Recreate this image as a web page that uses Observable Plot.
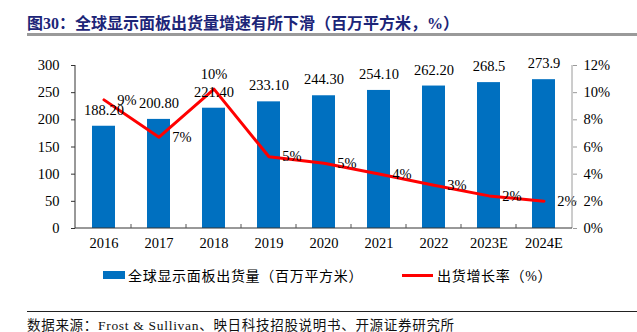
<!DOCTYPE html>
<html><head><meta charset="utf-8">
<script src="https://cdn.jsdelivr.net/npm/d3@7"></script>
<script src="https://cdn.jsdelivr.net/npm/@observablehq/plot@0.6"></script>
<style>
body{margin:0;background:#fff;}
#wrap{position:relative;width:637px;height:332px;overflow:hidden;background:#fff;font-family:'Liberation Serif','Noto Sans CJK SC',serif;}
#title{position:absolute;left:27px;top:10px;font-size:16px;font-weight:bold;color:#1c2578;white-space:nowrap;font-family:'Liberation Serif','Noto Sans CJK SC',serif;}
#rule1{position:absolute;left:27px;right:0;top:33px;height:3px;background:#9a9a9a;}
#chart{position:absolute;left:0;top:40px;}
#legend{position:absolute;top:265px;left:0;width:637px;height:20px;font-size:14px;letter-spacing:0.7px;color:#000;}
.lg{position:absolute;top:0;display:flex;align-items:center;height:20px;white-space:nowrap;}
.sw{display:inline-block;width:22px;height:8px;background:#0070C0;margin-right:3px;}
.ln{display:inline-block;width:31px;height:3px;background:#ff0000;margin-right:4px;}
#rule2{position:absolute;left:27px;right:0;top:311px;height:1px;background:#222;}
#source{position:absolute;left:27px;top:314px;font-size:13.5px;letter-spacing:0.7px;color:#111;white-space:nowrap;}
</style></head><body>
<div id="wrap">
  <div id="title">图30：全球显示面板出货量增速有所下滑（百万平方米，%）</div>
  <div id="rule1"></div>
  <div id="chart"></div>
  <div id="legend"></div>
  <div id="rule2"></div>
  <div id="source">数据来源：Frost &amp; Sullivan、映日科技招股说明书、开源证券研究所</div>
</div>
<script>
const years = ["2016","2017","2018","2019","2020","2021","2022","2023E","2024E"];
const shipments = [188.2, 200.8, 221.4, 233.1, 244.3, 254.1, 262.2, 268.5, 273.9];
const shipmentLabels = ["188.20","200.80","221.40","233.10","244.30","254.10","262.20","268.5","273.9"];
const growth = [9.47, 6.72, 10.26, 5.28, 4.80, 4.01, 3.19, 2.40, 2.01];
const growthLabels = ["9%","7%","10%","5%","5%","4%","3%","2%","2%"];
const leftTicks = [0, 50, 100, 150, 200, 250, 300];
const rightTicks = [0, 2, 4, 6, 8, 10, 12];
const seriesNames = ["全球显示面板出货量（百万平方米）", "出货增长率（%）"];

const factor = d3.max(leftTicks) / d3.max(rightTicks);
const data = years.map((y, i) => ({year: y, value: shipments[i], vlabel: shipmentLabels[i], rate: growth[i], rlabel: growthLabels[i]}));
const peakYear = years[d3.maxIndex(growth)];

const axesMark = (index, scales, values, dimensions) => {
  const x = scales.x, y = scales.y;
  const [x0, x1] = x.range();
  const yb = y(0), yt = y(d3.max(leftTicks));
  const g = d3.create("svg:g");
  g.append("line").attr("x1", x0).attr("x2", x0).attr("y1", yt).attr("y2", yb).attr("stroke", "#333");
  g.append("line").attr("x1", x1).attr("x2", x1).attr("y1", yt).attr("y2", yb).attr("stroke", "#9a9a9a");
  g.append("line").attr("x1", x0).attr("x2", x1).attr("y1", yb).attr("y2", yb).attr("stroke", "#333");
  const bw = x.bandwidth();
  for (let i = 0; i < years.length - 1; i++) {
    const bx = (x(years[i]) + bw + x(years[i + 1])) / 2;
    g.append("line").attr("x1", bx).attr("x2", bx).attr("y1", yb).attr("y2", yb - 4).attr("stroke", "#555");
  }
  return g.node();
};

const chart = Plot.plot({
  width: 637,
  height: 216,
  marginTop: 25,
  marginBottom: 28,
  marginLeft: 75,
  marginRight: 65,
  style: {fontFamily: "'Liberation Serif','Times New Roman',serif", fontSize: "14.5px", color: "#000", background: "transparent"},
  x: {domain: years, paddingInner: 0.59, paddingOuter: 0.295, label: null},
  y: {domain: [0, d3.max(leftTicks)], label: null},
  marks: [
    Plot.barY(data, {x: "year", y: "value", fill: "#0070C0"}),
    Plot.line(data, {x: "year", y: d => d.rate * factor, stroke: "#ff0000", strokeWidth: 3}),
    Plot.text(data, {x: "year", y: "value", text: "vlabel", dy: -16, lineAnchor: "middle", fontSize: 14.5, fill: "#000"}),
    Plot.text(data.filter(d => d.year !== peakYear), {x: "year", y: d => d.rate * factor, text: "rlabel", dx: 23, lineAnchor: "middle", fontSize: 14.5, fill: "#000"}),
    Plot.text(data.filter(d => d.year === peakYear), {x: "year", y: d => d.rate * factor, text: "rlabel", dy: -15, lineAnchor: "middle", fontSize: 14.5, fill: "#000"}),
    Plot.axisX({tickSize: 0, tickPadding: 9, label: null, fontSize: 14.5}),
    Plot.axisY({anchor: "left", ticks: leftTicks, tickSize: 4, tickPadding: 12, label: null, fontSize: 14.5, stroke: "#333"}),
    Plot.axisY({anchor: "right", ticks: rightTicks.map(t => t * factor), tickFormat: d => (d / factor) + "%", tickSize: 4, tickPadding: 7, label: null, fontSize: 14.5, stroke: "#9a9a9a"}),
    axesMark
  ]
});
document.getElementById("chart").appendChild(chart);

const legend = document.getElementById("legend");
const l1 = document.createElement("div"); l1.className = "lg"; l1.style.left = "103px";
l1.innerHTML = '<span class="sw"></span><span>' + seriesNames[0] + '</span>';
const l2 = document.createElement("div"); l2.className = "lg"; l2.style.left = "402px";
l2.innerHTML = '<span class="ln"></span><span>' + seriesNames[1] + '</span>';
legend.appendChild(l1); legend.appendChild(l2);
</script>
</body></html>
